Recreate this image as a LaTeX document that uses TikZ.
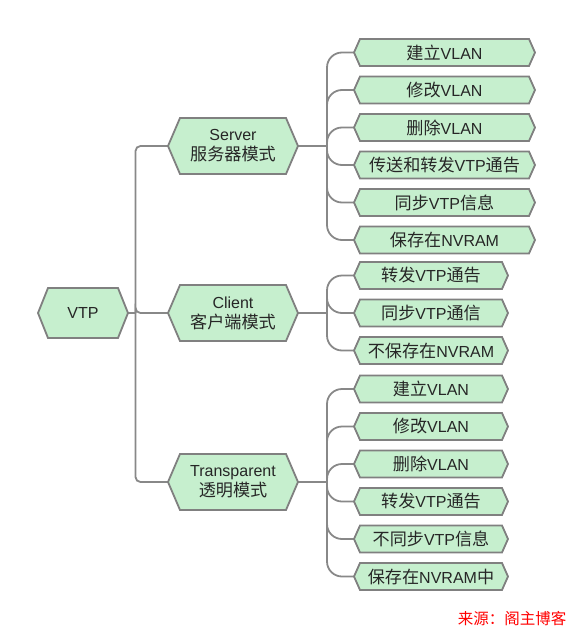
\documentclass[tikz,border=0pt]{standalone}
\usepackage{fontspec}
\setmainfont{Liberation Sans}
\newfontfamily\cjk[Scale=1.07]{Noto Sans CJK SC}
\newcommand{\zh}[1]{{\cjk #1}}
\usetikzlibrary{backgrounds}

\definecolor{leafgreen}{HTML}{C6EFCE}
\definecolor{linegray}{HTML}{888888}
\definecolor{bordergray}{HTML}{808080}

\tikzset{
    box/.style={inner sep=0pt, outer sep=0pt, align=center, text=black!85,
        font=\fontsize{16}{20}\selectfont},
    leaf/.style={box, minimum height=27pt},
    mode/.style={box, minimum width=130pt, minimum height=56pt},
    link/.style={draw=linegray, line width=1.8pt},
    hexline/.style={draw=bordergray, fill=leafgreen, line width=1.8pt, line join=miter}
}

% hexagon round a node: #1 node, #2 indent of the points
\newcommand{\hexa}[2]{%
    \path[hexline] (#1.west) -- ([xshift=#2]#1.north west) -- ([xshift=-#2]#1.north east)
        -- (#1.east) -- ([xshift=-#2]#1.south east) -- ([xshift=#2]#1.south west) -- cycle;}

\begin{document}
\begin{tikzpicture}[x=1pt, y=-1pt]
    \useasboundingbox (0,0) rectangle (574,629);

    % Root and the three modes
    \node[box, minimum width=90pt, minimum height=50pt] (vtp) at (83,313) {VTP};
    \node[mode] (server) at (233,146) {Server\\\zh{服务器模式}};
    \node[mode] (client) at (233,313) {Client\\\zh{客户端模式}};
    \node[mode] (transp) at (233,482) {Transparent\\\zh{透明模式}};

    % Server leaves
    \foreach \i/\y/\txt in {1/52.5/\zh{建立}VLAN, 2/90/\zh{修改}VLAN, 3/127.5/\zh{删除}VLAN,
            4/165/\zh{传送和转发}VTP\zh{通告}, 5/202.5/\zh{同步}VTP\zh{信息}, 6/240/\zh{保存在}NVRAM}
        \node[leaf, minimum width=181pt] (s\i) at (444.5,\y) {\txt};

    % Client leaves
    \foreach \i/\y/\txt in {1/275.5/\zh{转发}VTP\zh{通告}, 2/313/\zh{同步}VTP\zh{通信},
            3/350.5/\zh{不保存在}NVRAM}
        \node[leaf, minimum width=154pt] (c\i) at (431,\y) {\txt};

    % Transparent leaves
    \foreach \i/\y/\txt in {1/389/\zh{建立}VLAN, 2/426.5/\zh{修改}VLAN, 3/464/\zh{删除}VLAN,
            4/501.5/\zh{转发}VTP\zh{通告}, 5/539/\zh{不同步}VTP\zh{信息}, 6/576.5/\zh{保存在}NVRAM\zh{中}}
        \node[leaf, minimum width=154pt] (t\i) at (431,\y) {\txt};

    % Source note
    \node[anchor=east, text=red, font=\cjk\fontsize{14.5}{18}\selectfont] (source) at (570,619) {来源：阁主博客};

    % Hubs
    \coordinate (roothub) at ([xshift=7.5pt]vtp.east);
    \coordinate (serverhub) at ([xshift=29pt]server.east);
    \coordinate (clienthub) at ([xshift=29pt]client.east);
    \coordinate (transphub) at ([xshift=29pt]transp.east);

    \begin{scope}[on background layer]
        % Connectors
        \draw[link] (vtp.east) -- (roothub);
        \foreach \m in {server, client, transp} {
            \draw[link, rounded corners=5pt] (roothub) |- (\m.west);
        }
        \foreach \m/\k/\n in {server/s/6, client/c/3, transp/t/6} {
            \draw[link] (\m.east) -- (\m hub);
            \foreach \i in {1,...,\n} {
                \draw[link, rounded corners=15pt] (\m hub) |- (\k\i.west);
            }
        }

        % Hexagons
        \hexa{vtp}{10pt}
        \foreach \m in {server, client, transp} {
            \hexa{\m}{12pt}
        }
        \foreach \i in {1,...,6} {
            \hexa{s\i}{6pt}
            \hexa{t\i}{6pt}
        }
        \foreach \i in {1,...,3} {
            \hexa{c\i}{6pt}
        }
    \end{scope}
\end{tikzpicture}
\end{document}
